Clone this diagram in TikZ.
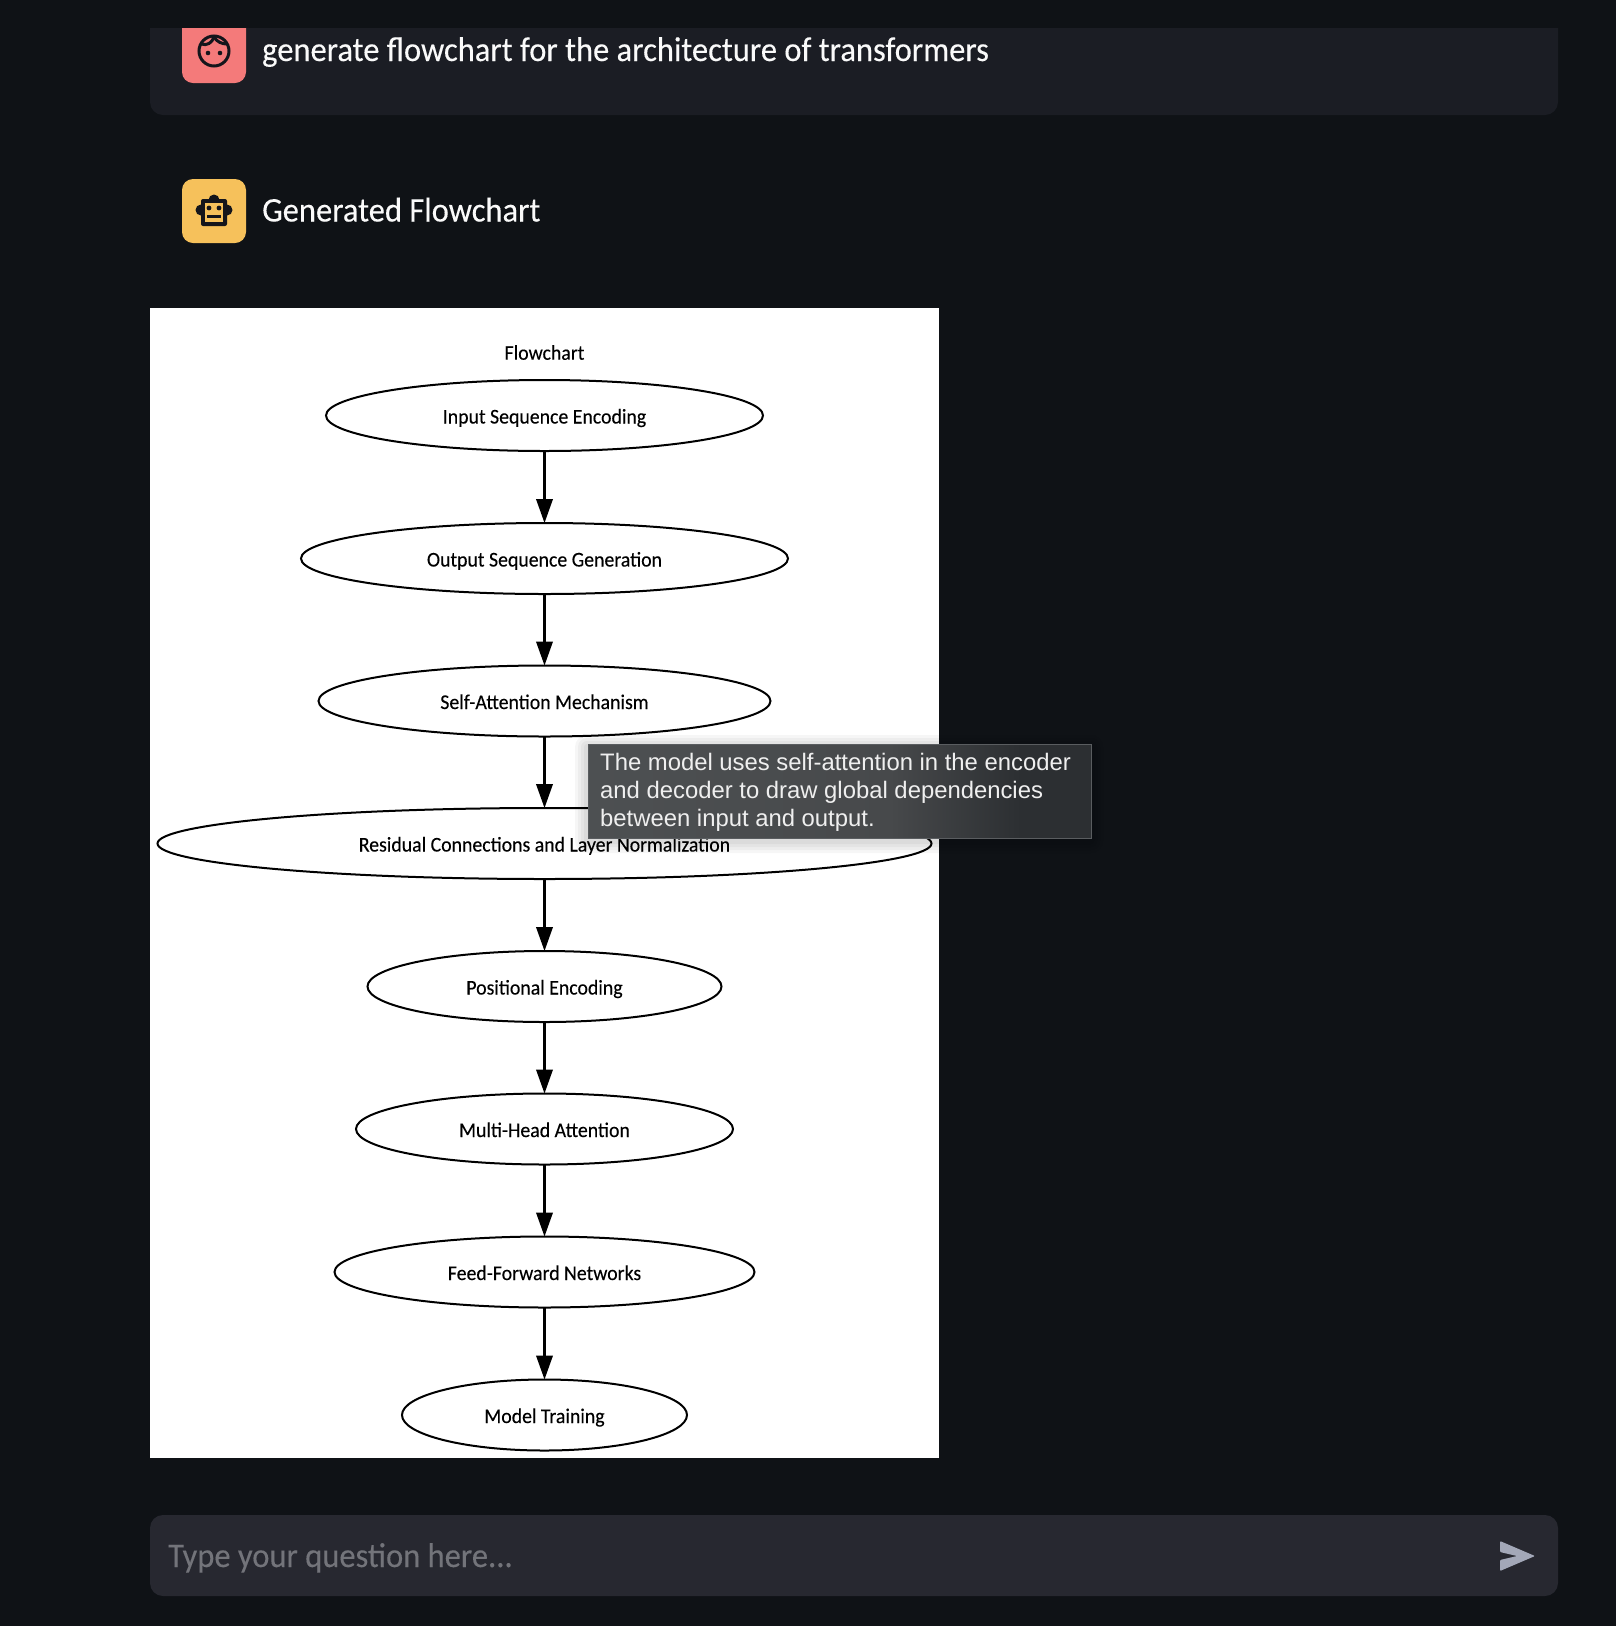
\documentclass[tikz,border=0pt]{standalone}
\usepackage{fontspec}
\setmainfont[FakeStretch=0.943,FakeBold=0.2]{Carlito}
\newfontfamily\tipfont{Liberation Sans}
\usetikzlibrary{shapes.geometric,arrows.meta}
\definecolor{pagebg}{HTML}{0F1216}
\definecolor{cardbg}{HTML}{1B1D24}
\definecolor{inputbg}{HTML}{272830}
\definecolor{uitext}{HTML}{FAFAFA}
\definecolor{hinttext}{HTML}{73747A}
\definecolor{redicon}{HTML}{F47A7A}
\definecolor{yellowicon}{HTML}{F6C15B}
\definecolor{iconink}{HTML}{14151B}
\definecolor{sendink}{HTML}{A3A8B8}
\definecolor{tipa}{HTML}{4D5052}
\definecolor{tipb}{HTML}{47494B}
\definecolor{tipc}{HTML}{2C2F32}
\definecolor{tipedge}{HTML}{5A5D60}
\definecolor{tiptext}{HTML}{EFEFEF}
\pgfdeclarehorizontalshading{tipshade}{100bp}{color(0bp)=(tipa); color(25bp)=(tipa); color(55bp)=(tipb); color(68bp)=(tipc); color(100bp)=(tipc)}
\tikzset{
  flownode/.style={draw=black,line width=2pt,ellipse,inner sep=0pt,outer sep=0pt,minimum height=71pt,font=\fontsize{21}{24}\selectfont,text=black,text height=16pt,text depth=0pt},
  flowedge/.style={draw=black,line width=2.1pt,-{Triangle[length=24pt,width=16.5pt]}},
  uilabel/.style={anchor=base west,inner sep=0pt,text=uitext,font=\fontsize{34.5}{40}\selectfont},
  tipline/.style={anchor=base west,inner sep=0pt,text=tiptext,font=\tipfont\fontsize{23.85}{28}\selectfont}
}
\begin{document}
\begin{tikzpicture}[x=1pt,y=-1pt]
\useasboundingbox (0,0) rectangle (1616,1626);
\fill[pagebg] (0,0) rectangle (1616,1626);
% top card and user icon
\begin{scope}
\clip (0,28) rectangle (1616,1626);
\fill[cardbg,rounded corners=13pt] (150,-20) rectangle (1558,115);
\fill[redicon,rounded corners=11pt] (182,10) rectangle (246,83);
\end{scope}
\draw[iconink,line width=3pt] (214,51) circle (15);
\draw[iconink,line width=3pt] (201,44) .. controls (207,46) and (212,43) .. (214,37);
\draw[iconink,line width=3pt] (214,37) .. controls (217,42) and (222,44) .. (227,44);
\fill[iconink] (208,53) circle (2.3) (220,53) circle (2.3);
\node[uilabel] (userq) at (262,61) {generate flowchart for the architecture of transformers};
% bot icon
\fill[yellowicon,rounded corners=11pt] (182,179) rectangle (246,243);
\fill[iconink] (201,210) circle (5.5) (227,210) circle (5.5) (214,200) circle (5.5);
\fill[iconink,rounded corners=2pt] (201,199) rectangle (227,226);
\fill[yellowicon] (205,203) rectangle (223,222);
\fill[iconink] (209,208) circle (2.4) (219,208) circle (2.4);
\fill[iconink] (207,215) rectangle (221,217.5);
\node[uilabel] (botq) at (262,221.5) {Generated Flowchart};
% panel
\fill[white] (150,308) rectangle (939,1458);
\node[inner sep=0pt,text=black,font=\fontsize{21}{24}\selectfont] (title) at (544.5,352.5) {Flowchart};
\node[flownode,minimum width=437pt] (n1) at (544.5,415.5) {Input Sequence Encoding};
\node[flownode,minimum width=487pt] (n2) at (544.5,558.5) {Output Sequence Generation};
\node[flownode,minimum width=452pt] (n3) at (544.5,701) {Self-Attention Mechanism};
\node[flownode,minimum width=774pt] (n4) at (544.5,843.5) {Residual Connections and Layer Normalization};
\node[flownode,minimum width=354pt] (n5) at (544.5,986.5) {Positional Encoding};
\node[flownode,minimum width=377pt] (n6) at (544.5,1129) {Multi-Head Attention};
\node[flownode,minimum width=420pt] (n7) at (544.5,1272) {Feed-Forward Networks};
\node[flownode,minimum width=285pt] (n8) at (544.5,1415) {Model Training};
\draw[flowedge] (n1) -- (n2);
\draw[flowedge] (n2) -- (n3);
\draw[flowedge] (n3) -- (n4);
\draw[flowedge] (n4) -- (n5);
\draw[flowedge] (n5) -- (n6);
\draw[flowedge] (n6) -- (n7);
\draw[flowedge] (n7) -- (n8);
% tooltip
\foreach \g in {12,9,6,3}{\fill[black,opacity=0.035,rounded corners=\g pt] (587-\g,744-\g+3) rectangle (1091+\g,838+\g+3);}
\draw[tipedge,line width=0.8pt,shading=tipshade] (588,744.5) rectangle (1091.5,838);
\node[tipline] (tip1) at (600,770) {The model uses self-attention in the encoder};
\node[tipline] (tip2) at (600,798) {and decoder to draw global dependencies};
\node[tipline] (tip3) at (600,826) {between input and output.};
% input box
\fill[inputbg,rounded corners=13pt] (150,1515) rectangle (1558,1596);
\node[uilabel,text=hinttext] (hint) at (168,1567) {Type your question here...};
\fill[sendink,rounded corners=1pt] (1500,1541) -- (1535,1556) -- (1500,1571) -- (1500,1560) -- (1517,1556) -- (1500,1552) -- cycle;
\end{tikzpicture}
\end{document}
